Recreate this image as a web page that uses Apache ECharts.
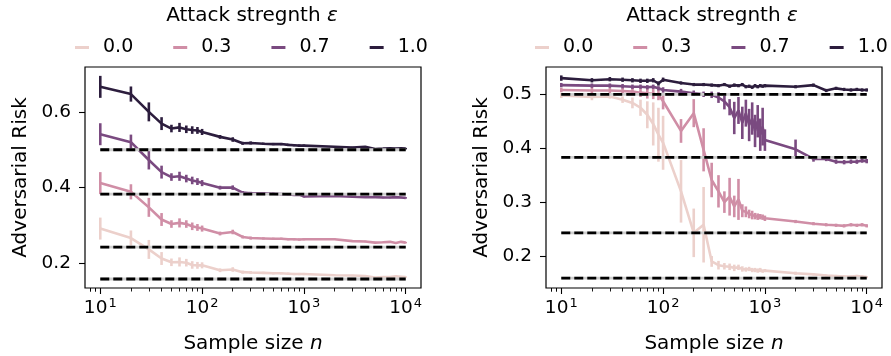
<!DOCTYPE html>
<html><head><meta charset="utf-8">
<script src="https://cdn.jsdelivr.net/npm/echarts@6/dist/echarts.min.js"></script>
<style>html,body{margin:0;padding:0;background:#fff}#c{width:891px;height:356px}</style>
</head><body><div id="c"></div>
<script>
// ---------------- DATA ----------------
const epsLabels = ['0.0', '0.3', '0.7', '1.0'];
const nLeft = [10,20,30,40,50,60,70,80,90,100,150,200,250,300,400,500,600,700,800,900,1000,2000,3000,4000,5000,6000,7000,8000,9000,10000];
const leftMean00 = [.292,.267,.237,.213,.203,.204,.202,.196,.195,.195,.182,.184,.177,.176,.175,.174,.174,.173,.172,.172,.172,.169,.168,.167,.163,.164,.164,.166,.165,.164];
const leftMean03 = [.412,.389,.348,.316,.304,.307,.304,.298,.295,.292,.279,.283,.270,.267,.266,.265,.265,.264,.264,.263,.264,.264,.259,.258,.255,.256,.257,.254,.257,.255];
const leftMean07 = [.541,.520,.473,.441,.428,.430,.424,.419,.416,.412,.400,.400,.387,.385,.385,.384,.383,.382,.381,.381,.377,.378,.376,.375,.375,.374,.374,.375,.374,.373];
const leftMean10 = [.666,.647,.600,.569,.556,.559,.554,.552,.551,.547,.534,.527,.517,.518,.516,.515,.515,.513,.512,.511,.511,.508,.506,.508,.502,.503,.504,.503,.504,.503];
const leftErr = [.029,.02,.025,.017,.01,.012,.01,.01,.009,.008,.005,.006,.004,.004,.003,.003,.003,.003,.003,.003,.003,.002,.002,.002,.002,.002,.002,.002,.002,.002];

const nRight = [10,20,30,40,50,60,70,80,90,100,150,200,250,300,350,400,450,500,550,600,650,700,750,800,850,900,950,1000,2000,3000,4000,5000,6000,7000,8000,9000,10000];
const rightMean00 = [.498,.495,.496,.490,.484,.475,.462,.445,.425,.410,.320,.243,.258,.190,.183,.181,.180,.178,.179,.176,.175,.176,.174,.174,.173,.174,.172,.173,.168,.166,.164,.163,.162,.162,.163,.162,.161];
const rightErr00 = [.005,.006,.004,.006,.01,.015,.025,.04,.05,.05,.058,.045,.07,.01,.008,.006,.006,.006,.005,.005,.004,.004,.004,.004,.004,.004,.003,.003,.003,.002,.002,.002,.002,.002,.002,.002,.002];
const rightMean03 = [.508,.507,.507,.506,.505,.503,.502,.501,.499,.487,.432,.465,.397,.341,.320,.300,.310,.292,.305,.284,.282,.278,.276,.274,.273,.273,.272,.270,.264,.260,.258,.257,.256,.258,.257,.258,.256];
const rightErr03 = [.004,.006,.005,.006,.007,.008,.01,.01,.01,.015,.022,.026,.04,.032,.03,.02,.035,.02,.038,.012,.01,.008,.008,.006,.006,.005,.005,.005,.003,.003,.003,.003,.003,.003,.003,.003,.003];
const rightMean07 = [.517,.516,.516,.515,.514,.514,.513,.514,.511,.508,.505,.502,.500,.499,.494,.487,.476,.456,.470,.447,.465,.443,.455,.432,.450,.425,.440,.415,.398,.380,.380,.375,.374,.375,.375,.377,.376];
const rightErr07 = [.004,.004,.004,.004,.004,.004,.004,.004,.004,.005,.005,.005,.005,.006,.01,.015,.015,.03,.025,.03,.025,.03,.03,.03,.03,.03,.035,.02,.018,.005,.004,.004,.004,.004,.004,.004,.004];
const rightMean10 = [.530,.526,.528,.527,.526,.525,.525,.526,.520,.527,.521,.518,.518,.517,.516,.518,.515,.517,.516,.518,.514,.515,.513,.516,.514,.516,.515,.516,.514,.517,.507,.511,.509,.508,.509,.508,.508];
const rightErr10 = [.005,.004,.004,.004,.004,.004,.004,.004,.004,.004,.003,.003,.003,.003,.003,.003,.003,.003,.003,.003,.003,.003,.003,.003,.003,.003,.003,.003,.003,.003,.003,.003,.003,.003,.003,.003,.003];

const baselineRisk = [0.159, 0.243, 0.383, 0.500];
const baselineN = [10, 10000];
const xTickExponents = [1, 2, 3, 4];
const leftYTicks = [0.2, 0.4, 0.6];
const rightYTicks = [0.2, 0.3, 0.4, 0.5];

// ---------------- STYLE ----------------
const COLORS = ['#ecd0cb', '#d08ea6', '#7a4a80', '#2c1d3d'];
const FONT = 'DejaVu Sans';
const L = Math.log10;

const minorVals = [];
[1, 10, 100, 1000].forEach(b => { for (let k = 2; k <= 9; k++) minorVals.push(L(k * b)); });
minorVals.push(L(8), L(9));

const plots = [
  { n: nLeft, means: [leftMean00, leftMean03, leftMean07, leftMean10], errs: [leftErr, leftErr, leftErr, leftErr],
    left: 85, ymin: 0.1352, ymax: 0.7184, yticks: leftYTicks, titleX: 252, legendX: 75 },
  { n: nRight, means: [rightMean00, rightMean03, rightMean07, rightMean10], errs: [rightErr00, rightErr03, rightErr07, rightErr10],
    left: 546, ymin: 0.1407, ymax: 0.5506, yticks: rightYTicks, titleX: 712, legendX: 535 }
];

const grid = [], xAxis = [], yAxis = [], series = [], title = [], legend = [];
plots.forEach((p, pi) => {
  grid.push({ left: p.left, top: 67, width: 336, height: 221, show: true, borderColor: '#000', borderWidth: 1.2,
    backgroundColor: 'transparent', containLabel: false, outerBoundsMode: 'none' });
  xAxis.push({
    type: 'value', gridIndex: pi, min: 0.85, max: 4.15, position: 'bottom',
    axisLine: { show: false }, splitLine: { show: false },
    axisTick: { show: true, customValues: xTickExponents, length: 6, lineStyle: { color: '#000', width: 1.1 } },
    axisLabel: { show: true, customValues: xTickExponents, margin: 9, color: '#000', fontFamily: FONT, fontSize: 18.5,
      formatter: v => '10{s|' + Math.round(v) + '}',
      rich: { s: { fontSize: 13, fontFamily: FONT, color: '#000', verticalAlign: 'top', padding: [0, 0, 10, 1] } } },
    name: 'Sample size {i|n}', nameLocation: 'middle', nameGap: 46,
    nameTextStyle: { color: '#000', fontFamily: FONT, fontSize: 20, rich: { i: { fontStyle: 'italic', fontFamily: FONT, fontSize: 20, color: '#000' } } }
  });
  xAxis.push({
    type: 'value', gridIndex: pi, min: 0.85, max: 4.15, position: 'bottom',
    axisLine: { show: false }, splitLine: { show: false }, axisLabel: { show: false },
    axisTick: { show: true, customValues: minorVals, length: 3.5, lineStyle: { color: '#000', width: 0.9 } }
  });
  yAxis.push({
    type: 'value', gridIndex: pi, min: p.ymin, max: p.ymax,
    axisLine: { show: false }, splitLine: { show: false },
    axisTick: { show: true, customValues: p.yticks, length: 6, lineStyle: { color: '#000', width: 1.1 } },
    axisLabel: { show: true, customValues: p.yticks, margin: 14, color: '#000', fontFamily: FONT, fontSize: 18.5, formatter: v => v.toFixed(1) },
    name: 'Adversarial Risk', nameLocation: 'middle', nameGap: 54,
    nameTextStyle: { color: '#000', fontFamily: FONT, fontSize: 20 }
  });
  const xi = pi * 2, yi = pi;
  p.means.forEach((m, k) => {
    const pts = p.n.map((n, i) => [L(n), m[i]]);
    series.push({
      name: epsLabels[k], type: 'line', xAxisIndex: xi, yAxisIndex: yi, data: pts,
      symbol: 'none', color: COLORS[k], lineStyle: { width: 2.6, color: COLORS[k] }, z: 2 + k, silent: true, animation: false
    });
    const e = p.errs[k];
    series.push({
      name: epsLabels[k], type: 'custom', xAxisIndex: xi, yAxisIndex: yi, z: 2 + k, silent: true, animation: false,
      data: p.n.map((n, i) => [L(n), m[i] - e[i], m[i] + e[i]]),
      encode: { x: 0, y: [1, 2] },
      renderItem: (params, api) => {
        const a = api.coord([api.value(0), api.value(1)]);
        const b = api.coord([api.value(0), api.value(2)]);
        return { type: 'line', shape: { x1: a[0], y1: a[1], x2: b[0], y2: b[1] }, style: { stroke: COLORS[k], lineWidth: 2.6 } };
      }
    });
  });
  baselineRisk.forEach(v => {
    const pts = baselineN.map(n => [L(n), v]);
    series.push({ type: 'line', xAxisIndex: xi, yAxisIndex: yi, data: pts, symbol: 'none', z: 9, silent: true, animation: false,
      lineStyle: { width: 2.8, color: '#cfcfcf' } });
    series.push({ type: 'line', xAxisIndex: xi, yAxisIndex: yi, data: pts, symbol: 'none', z: 10, silent: true, animation: false,
      lineStyle: { width: 2.8, color: '#000', type: [9, 4] } });
  });
  title.push({
    text: 'Attack stregnth {i|ε}', left: p.titleX, top: 6, textAlign: 'center', padding: 0,
    textStyle: { fontFamily: FONT, fontSize: 20, fontWeight: 'normal', color: '#000',
      rich: { i: { fontStyle: 'italic', fontFamily: FONT, fontSize: 20, color: '#000' } } }
  });
  legend.push({
    data: epsLabels, left: p.legendX, top: 38, padding: 0, itemGap: 40, icon: 'rect', itemWidth: 14, itemHeight: 3,
    selectedMode: false,
    formatter: '{t|{name}}',
    textStyle: { fontFamily: FONT, fontSize: 19, color: '#000',
      rich: { t: { fontFamily: FONT, fontSize: 19, color: '#000', padding: [0, 0, 0, 9] } } }
  });
});

const chart = echarts.init(document.getElementById('c'), null, { renderer: 'canvas' });
chart.setOption({ animation: false, backgroundColor: '#fff', title, legend, grid, xAxis, yAxis, series });
</script></body></html>
